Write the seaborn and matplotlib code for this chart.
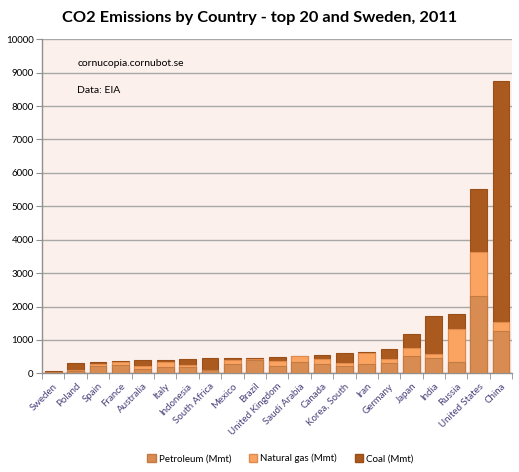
import pandas as pd
import seaborn as sns
from matplotlib import pyplot as plt
from matplotlib.patches import Patch

countries = ["Sweden", "Poland", "Spain", "France", "Australia", "Italy", "Indonesia",
             "South Africa", "Mexico", "Brazil", "United Kingdom", "Saudi Arabia", "Canada",
             "Korea, South", "Iran", "Germany", "Japan", "India", "Russia", "United States", "China"]
petroleum = [40, 70, 220, 250, 140, 180, 180, 90, 280, 390, 220, 330, 280, 220, 280, 300, 520, 450, 330, 2320, 1270]
natural_gas = [10, 30, 70, 90, 80, 160, 80, 5, 130, 40, 160, 180, 160, 80, 330, 140, 230, 120, 1010, 1310, 260]
coal = [10, 210, 40, 40, 170, 60, 160, 370, 40, 40, 110, 0, 100, 310, 20, 300, 430, 1160, 450, 1880, 7220]

series_names = ["Petroleum (Mmt)", "Natural gas (Mmt)", "Coal (Mmt)"]
fills = ["#D88C52", "#FBA462", "#AB5A1F"]
edges = ["#C47A42", "#E08A4C", "#9A4E18"]

df = pd.DataFrame({"country": countries, "petroleum": petroleum,
                   "gas": natural_gas, "coal": coal})
df["pg"] = df["petroleum"] + df["gas"]
df["total"] = df["pg"] + df["coal"]

sns.set_style("white")
plt.rcParams["font.family"] = ["Lato", "DejaVu Sans"]
plt.rcParams["text.color"] = "black"
plt.rcParams["ytick.labelcolor"] = "black"

fig = plt.figure(figsize=(5.19, 4.72), dpi=100)
ax = fig.add_axes([0.081, 0.209, 0.906, 0.708])
ax.set_facecolor("#FCF0EC")

# stacked bars drawn as overlapping cumulative bars (top layer first)
for col, fc, ec in [("total", fills[2], edges[2]), ("pg", fills[1], edges[1]),
                    ("petroleum", fills[0], edges[0])]:
    sns.barplot(data=df, x="country", y=col, order=countries, color=fc,
                saturation=1, width=0.75, edgecolor=ec, linewidth=0.8, ax=ax, zorder=3)

ax.set_ylim(0, 10000)
ax.set_xlim(-0.5, len(countries) - 0.5)
ax.set_yticks(range(0, 10001, 1000))
ax.yaxis.grid(True, color="#A8A8A8", linewidth=1.0, zorder=0)
ax.set_axisbelow(True)
ax.set_xlabel("")
ax.set_ylabel("")

for side in ["top", "right"]:
    ax.spines[side].set_visible(False)
for side in ["left", "bottom"]:
    ax.spines[side].set_color("#909090")
    ax.spines[side].set_linewidth(1.0)

ax.tick_params(axis="y", labelsize=7, length=4, color="#909090", labelcolor="black",
               left=True, pad=2)
ax.set_xticks(range(len(countries)))
ax.set_xticklabels(countries, rotation=45, ha="right", rotation_mode="anchor",
                   fontsize=7, color="#4A3E7A")
ax.tick_params(axis="x", which="major", length=0, pad=6)
ax.set_xticks([i - 0.5 for i in range(len(countries) + 1)], minor=True)
ax.tick_params(axis="x", which="minor", length=4, color="#909090", bottom=True)

ax.text(0.075, 0.92, "cornucopia.cornubot.se", transform=ax.transAxes, fontsize=7.5)
ax.text(0.075, 0.84, "Data: EIA", transform=ax.transAxes, fontsize=7.5)

fig.suptitle("CO2 Emissions by Country - top 20 and Sweden, 2011",
             x=0.5, y=0.977, fontsize=11.8, fontweight="bold", color="black")

handles = [Patch(facecolor=f, edgecolor=e) for f, e in zip(fills, edges)]
fig.legend(handles, series_names, loc="lower center", bbox_to_anchor=(0.54, 0.0),
           ncol=3, frameon=False, fontsize=7, handlelength=0.9, handleheight=0.9,
           handletextpad=0.3, columnspacing=1.8)

fig.savefig("out.png", dpi=100)
